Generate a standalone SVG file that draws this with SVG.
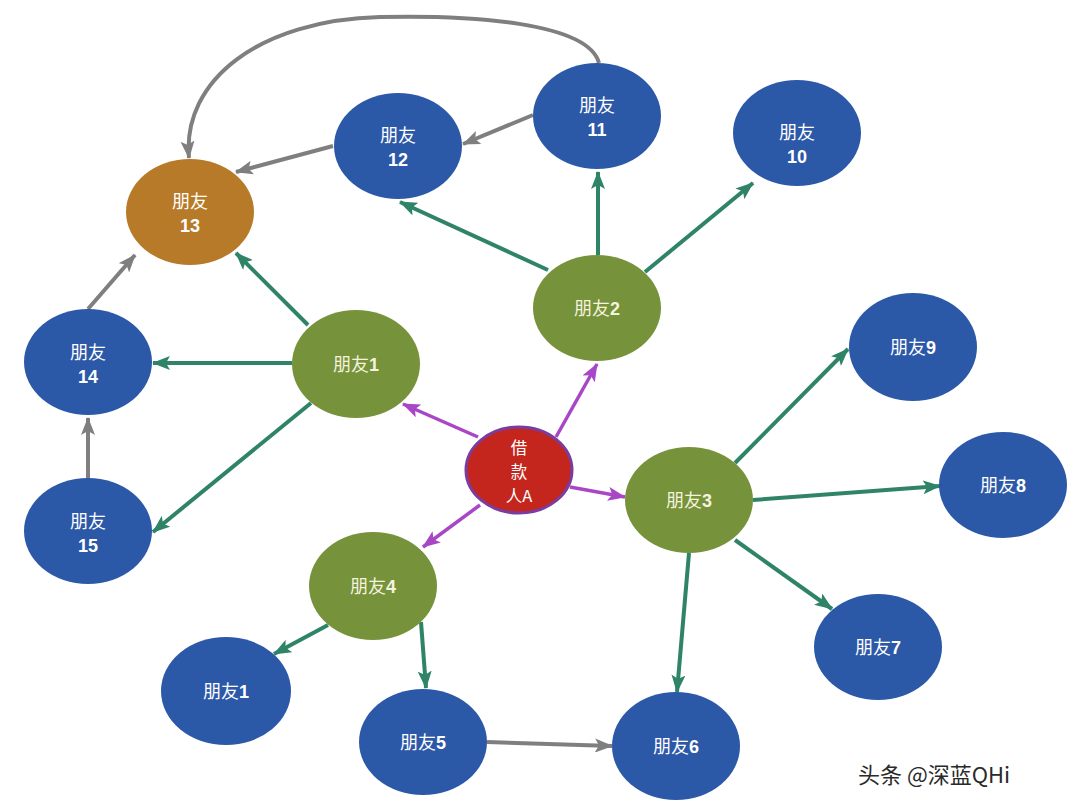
<svg xmlns="http://www.w3.org/2000/svg" width="1080" height="810" viewBox="0 0 1080 810">
<style>
.blue{fill:#2C58A8;}
.green{fill:#76923A;}
.orange{fill:#B77A28;}
.red{fill:#C4261E;stroke:#7A3C9E;stroke-width:3;}
.lbl{font-family:"Noto Sans CJK SC","Liberation Sans",sans-serif;font-size:18px;fill:#FFFFFF;text-anchor:middle;}
.lblg{fill:#F3F3DF;}
.num{font-family:"Liberation Sans","Noto Sans CJK SC",sans-serif;font-weight:bold;}
.ctr{font-size:16.5px;}
.eg{stroke:#2F8468;stroke-width:4;fill:none;marker-end:url(#ag);}
.ey{stroke:#7F7F7F;stroke-width:4;fill:none;marker-end:url(#ay);}
.ep{stroke:#A946C6;stroke-width:3.5;fill:none;marker-end:url(#ap);}
</style>
<defs>
<marker id="ag" markerUnits="userSpaceOnUse" markerWidth="18" markerHeight="14" refX="17" refY="7" orient="auto"><path d="M0,0 L18,7 L0,14 L4,7 z" fill="#2F8468"/></marker>
<marker id="ay" markerUnits="userSpaceOnUse" markerWidth="18" markerHeight="14" refX="17" refY="7" orient="auto"><path d="M0,0 L18,7 L0,14 L4,7 z" fill="#7F7F7F"/></marker>
<marker id="ap" markerUnits="userSpaceOnUse" markerWidth="18" markerHeight="14" refX="17" refY="7" orient="auto"><path d="M0,0 L18,7 L0,14 L4,7 z" fill="#A946C6"/></marker>
</defs>
<rect width="1080" height="810" fill="#FFFFFF"/>
<g id="connectors">
<line class="ep" x1="478" y1="437" x2="403" y2="404"/>
<line class="ep" x1="556" y1="437" x2="597" y2="364"/>
<line class="ep" x1="570" y1="487" x2="625" y2="497"/>
<line class="ep" x1="480" y1="505" x2="423" y2="547"/>
<line class="eg" x1="548" y1="270" x2="400" y2="202"/>
<line class="eg" x1="598" y1="255" x2="598" y2="172"/>
<line class="eg" x1="645" y1="272" x2="753" y2="183"/>
<line class="eg" x1="308" y1="325" x2="236" y2="253"/>
<line class="eg" x1="292" y1="363" x2="153" y2="363"/>
<line class="eg" x1="311" y1="403" x2="153" y2="532"/>
<line class="eg" x1="735" y1="463" x2="848" y2="349"/>
<line class="eg" x1="753" y1="500" x2="940" y2="486"/>
<line class="eg" x1="735" y1="540" x2="832" y2="609"/>
<line class="eg" x1="689" y1="553" x2="677" y2="692"/>
<line class="eg" x1="328" y1="625" x2="274" y2="654"/>
<line class="eg" x1="421" y1="622" x2="426" y2="688"/>
<line class="ey" x1="533" y1="115" x2="463" y2="144"/>
<line class="ey" x1="333" y1="146" x2="236" y2="172"/>
<path class="ey" d="M599,63 C588,22 470,15 380,17 C260,20 182,80 189,158"/>
<line class="ey" x1="88" y1="309" x2="135" y2="255"/>
<line class="ey" x1="88" y1="478" x2="88" y2="418"/>
<line class="ey" x1="487" y1="742" x2="612" y2="746"/>
</g>
<g id="n13"><ellipse class="orange" cx="190" cy="212" rx="64" ry="53"/><text class="lbl" x="190" y="208">朋友</text><text class="lbl num" x="190" y="232">13</text></g>
<g id="n12"><ellipse class="blue" cx="398" cy="146" rx="64" ry="53"/><text class="lbl" x="398" y="142">朋友</text><text class="lbl num" x="398" y="166">12</text></g>
<g id="n11"><ellipse class="blue" cx="597" cy="116" rx="64" ry="53"/><text class="lbl" x="597" y="112">朋友</text><text class="lbl num" x="597" y="136">11</text></g>
<g id="n10"><ellipse class="blue" cx="797" cy="133" rx="64" ry="53"/><text class="lbl" x="797" y="139">朋友</text><text class="lbl num" x="797" y="163">10</text></g>
<g id="n2"><ellipse class="green" cx="597" cy="308" rx="64" ry="53"/><text class="lbl lblg" x="597" y="315">朋友<tspan class="num">2</tspan></text></g>
<g id="n1"><ellipse class="green" cx="356" cy="364" rx="64" ry="54"/><text class="lbl lblg" x="356" y="371">朋友<tspan class="num">1</tspan></text></g>
<g id="n14"><ellipse class="blue" cx="88" cy="362" rx="64" ry="53"/><text class="lbl" x="88" y="359">朋友</text><text class="lbl num" x="88" y="383">14</text></g>
<g id="n15"><ellipse class="blue" cx="88" cy="531" rx="64" ry="53"/><text class="lbl" x="88" y="528">朋友</text><text class="lbl num" x="88" y="552">15</text></g>
<g id="nA"><ellipse class="red" cx="519" cy="470" rx="53" ry="43"/><text class="lbl ctr" x="519" y="454">借</text><text class="lbl ctr" x="519" y="478">款</text><text class="lbl ctr" x="519" y="502">人A</text></g>
<g id="n3"><ellipse class="green" cx="689" cy="500" rx="64" ry="53"/><text class="lbl lblg" x="689" y="507">朋友<tspan class="num">3</tspan></text></g>
<g id="n9"><ellipse class="blue" cx="913" cy="347" rx="64" ry="54"/><text class="lbl" x="913" y="354">朋友<tspan class="num">9</tspan></text></g>
<g id="n8"><ellipse class="blue" cx="1003" cy="485" rx="64" ry="53"/><text class="lbl" x="1003" y="492">朋友<tspan class="num">8</tspan></text></g>
<g id="n7"><ellipse class="blue" cx="878" cy="647" rx="64" ry="53"/><text class="lbl" x="878" y="654">朋友<tspan class="num">7</tspan></text></g>
<g id="n6"><ellipse class="blue" cx="676" cy="746" rx="64" ry="54"/><text class="lbl" x="676" y="753">朋友<tspan class="num">6</tspan></text></g>
<g id="n5"><ellipse class="blue" cx="423" cy="742" rx="64" ry="53"/><text class="lbl" x="423" y="749">朋友<tspan class="num">5</tspan></text></g>
<g id="n1b"><ellipse class="blue" cx="226" cy="691" rx="65" ry="54"/><text class="lbl" x="226" y="698">朋友<tspan class="num">1</tspan></text></g>
<g id="n4"><ellipse class="green" cx="373" cy="586" rx="64" ry="54"/><text class="lbl lblg" x="373" y="593">朋友<tspan class="num">4</tspan></text></g>
<text x="858" y="783" style="font-family:'Noto Sans CJK SC','Liberation Sans',sans-serif;font-size:22px;fill:#2A2A2A;stroke:#FFFFFF;stroke-width:3;paint-order:stroke;">头条 @深蓝QHi</text>
</svg>
